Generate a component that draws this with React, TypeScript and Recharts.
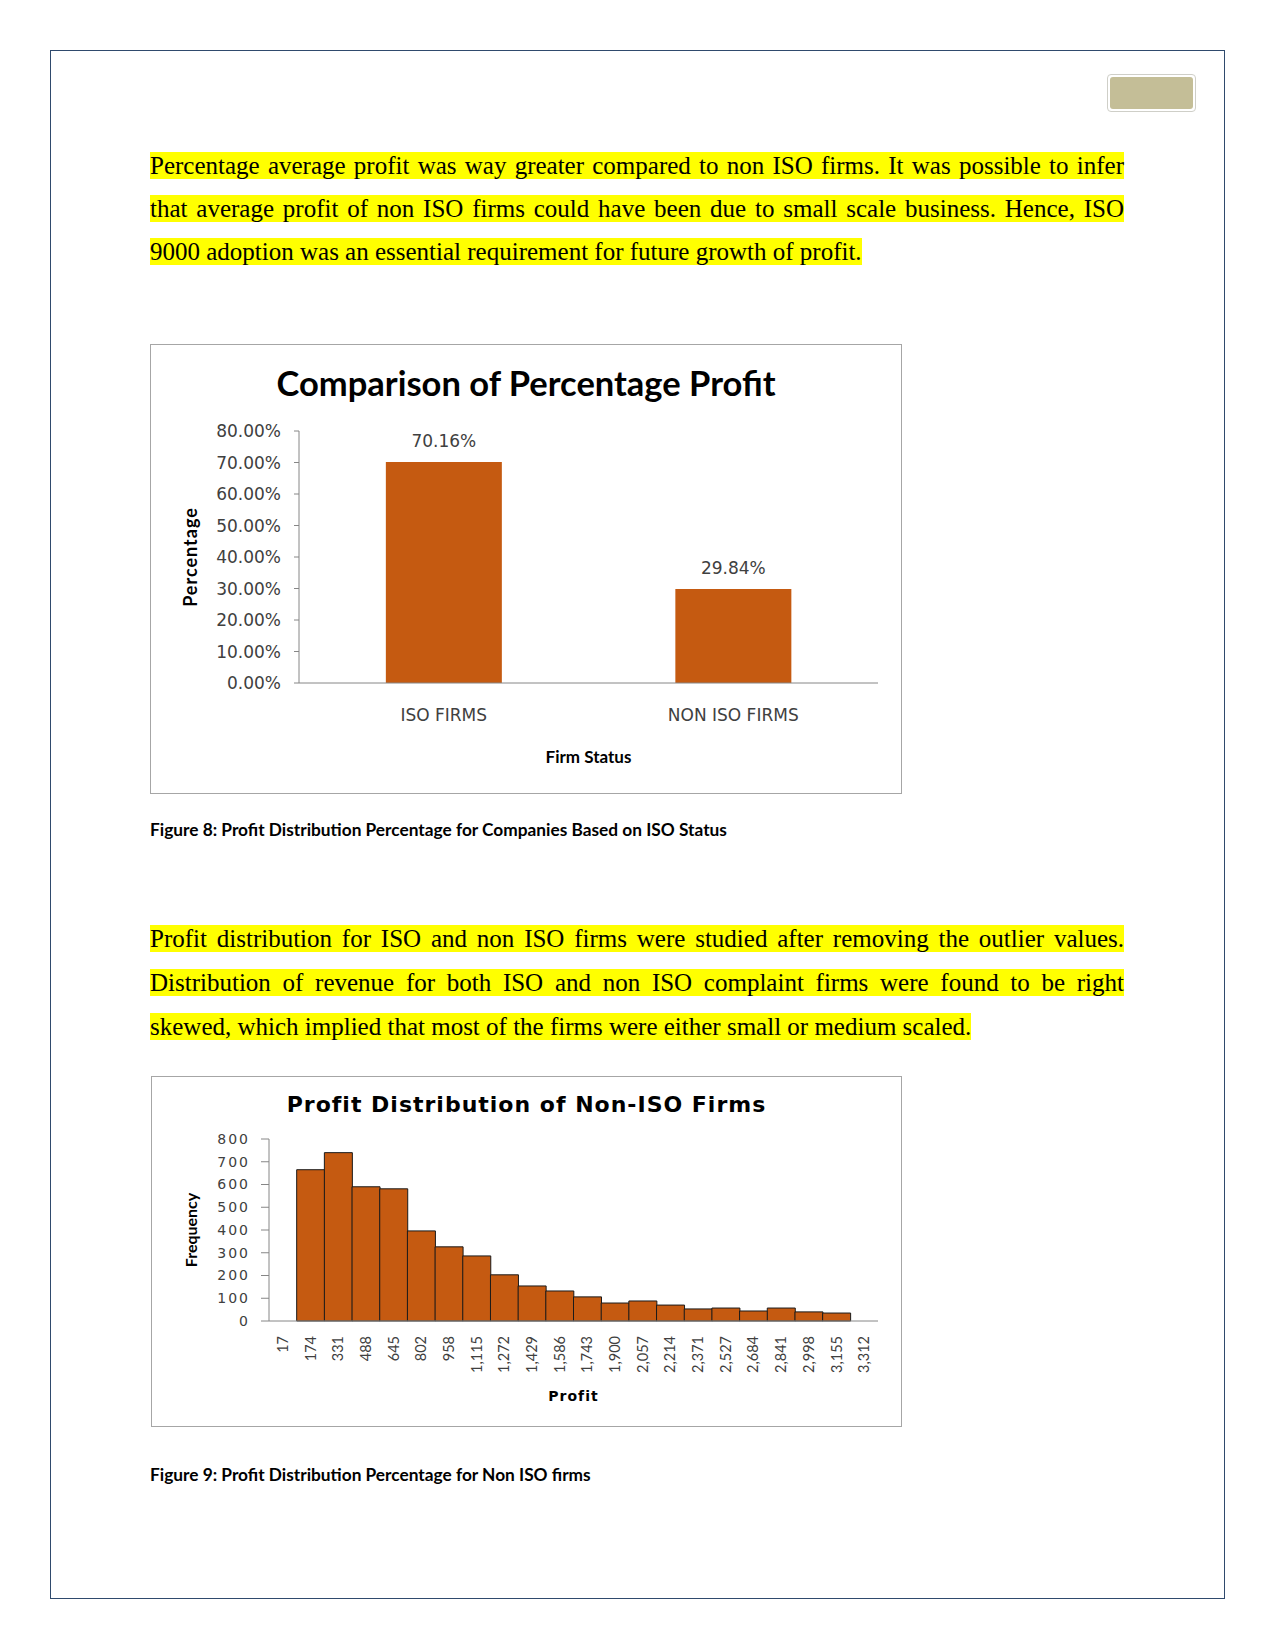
import React from 'react';
import { BarChart, Bar, XAxis, YAxis, LabelList } from 'recharts';

const isoCategories = ['ISO FIRMS', 'NON ISO FIRMS'];
const isoValues = [70.16, 29.84];
const isoTicks = [0, 10, 20, 30, 40, 50, 60, 70, 80];

const histBins = ['17', '174', '331', '488', '645', '802', '958', '1,115', '1,272', '1,429', '1,586', '1,743', '1,900', '2,057', '2,214', '2,371', '2,527', '2,684', '2,841', '2,998', '3,155', '3,312'];
const histFreq = [0, 665, 740, 590, 581, 396, 326, 286, 203, 154, 132, 106, 79, 88, 70, 53, 57, 44, 57, 40, 35, 0];
const histTicks = [0, 100, 200, 300, 400, 500, 600, 700, 800];

const para1 = [
  'Percentage average profit was way greater compared to non ISO firms. It was possible to infer',
  'that average profit of non ISO firms could have been due to small scale business. Hence, ISO',
  '9000 adoption was an essential requirement for future growth of profit.',
];
const para2 = [
  'Profit distribution for ISO and non ISO firms were studied after removing the outlier values.',
  'Distribution of revenue for both ISO and non ISO complaint firms were found to be right',
  'skewed, which implied that most of the firms were either small or medium scaled.',
];
const caption1 = 'Figure 8: Profit Distribution Percentage for Companies Based on ISO Status';
const caption2 = 'Figure 9: Profit Distribution Percentage for Non ISO firms';

const BAR = '#C55A11';
const AXIS = '#868686';

const isoData = isoCategories.map((c, i) => ({ name: c, value: isoValues[i] }));
const histData = histBins.map((b, i) => ({ bin: b, freq: histFreq[i] }));

function Para({ lines, top, lh }: { lines: string[]; top: number; lh: number }) {
  return (
    <>
      {lines.map((l, i) => (
        <div
          key={i}
          style={{
            position: 'absolute',
            left: 150,
            top: top + i * lh - lh / 2,
            width: 974,
            height: lh,
            lineHeight: lh + 'px',
            fontFamily: '"Liberation Serif", serif',
            fontSize: 25,
            color: '#000',
            textAlign: 'justify',
            textAlignLast: i < lines.length - 1 ? 'justify' : 'left',
            whiteSpace: 'nowrap',
          }}
        >
          <span style={{ background: '#FFFF00' }}>{l}</span>
        </div>
      ))}
    </>
  );
}

const HistTick = (props: any) => {
  const { x, y, payload } = props;
  return (
    <text
      x={x}
      y={y}
      dy="0.35em"
      textAnchor="end"
      transform={`rotate(-90 ${x} ${y})`}
      fontFamily="Lato, sans-serif"
      fontSize={14.5}
      fill="#404040"
    >
      {payload.value}
    </text>
  );
};

export default function App() {
  return (
    <div style={{ position: 'absolute', left: 0, top: 0, width: 1275, height: 1650, background: '#fff' }}>
      {/* page border */}
      <div style={{ position: 'absolute', left: 50, top: 50, width: 1175, height: 1549, border: '1px solid #2F4A6D', boxSizing: 'border-box' }} />
      {/* header box */}
      <div style={{ position: 'absolute', left: 1107, top: 74, width: 89, height: 38, border: '1px solid #CFCFC8', borderRadius: 4, boxSizing: 'border-box' }} />
      <div style={{ position: 'absolute', left: 1110, top: 77, width: 83, height: 32, background: '#C4BE97', borderRadius: 3 }} />

      <Para lines={para1} top={165} lh={43} />

      {/* Chart 1 */}
      <div style={{ position: 'absolute', left: 150, top: 344, width: 752, height: 450, border: '1px solid #A6A6A6', boxSizing: 'border-box' }} />
      <div style={{ position: 'absolute', left: 150, top: 344, width: 752, height: 450 }}>
        <div style={{ position: 'absolute', left: 0, top: 18, width: 752, textAlign: 'center', fontFamily: 'Lato, sans-serif', fontWeight: 700, fontSize: 34.5, color: '#000', lineHeight: '42px' }}>
          Comparison of Percentage Profit
        </div>
        <BarChart width={752} height={450} data={isoData} margin={{ top: 87, right: 24, bottom: 0, left: 0 }} barCategoryGap="30%">
          <XAxis
            dataKey="name"
            height={111}
            tickLine={false}
            tickSize={0}
            tickMargin={26}
            stroke={AXIS}
            tick={{ fontFamily: '"DejaVu Sans", sans-serif', fontSize: 17, fill: '#404040' }}
            label={{ value: 'Firm Status', position: 'insideBottom', offset: 31, style: { fontFamily: 'Lato, sans-serif', fontWeight: 700, fontSize: 17, fill: '#000' } }}
          />
          <YAxis
            width={149}
            domain={[0, 80]}
            ticks={isoTicks}
            interval={0}
            tickSize={5}
            tickMargin={13}
            stroke={AXIS}
            tickFormatter={(v: number) => `${v.toFixed(2)}%`}
            tick={{ fontFamily: '"DejaVu Sans", sans-serif', fontSize: 17, fill: '#404040' }}
            label={{ value: 'Percentage', angle: -90, position: 'insideLeft', offset: 41, style: { textAnchor: 'middle', fontFamily: 'Lato, sans-serif', fontWeight: 700, fontSize: 18, letterSpacing: 1, fill: '#000' } }}
          />
          <Bar dataKey="value" fill={BAR} isAnimationActive={false}>
            <LabelList
              dataKey="value"
              position="top"
              offset={15}
              formatter={(v: any) => `${Number(v).toFixed(2)}%`}
              style={{ fontFamily: '"DejaVu Sans", sans-serif', fontSize: 17, fill: '#404040' }}
            />
          </Bar>
        </BarChart>
      </div>
      <div style={{ position: 'absolute', left: 150, top: 819, fontFamily: 'Lato, sans-serif', fontWeight: 700, fontSize: 17.3, color: '#000', lineHeight: '22px', whiteSpace: 'nowrap' }}>{caption1}</div>

      <Para lines={para2} top={939} lh={44} />

      {/* Chart 2 */}
      <div style={{ position: 'absolute', left: 151, top: 1076, width: 751, height: 351, border: '1px solid #A6A6A6', boxSizing: 'border-box' }} />
      <div style={{ position: 'absolute', left: 151, top: 1076, width: 751, height: 351 }}>
        <div style={{ position: 'absolute', left: 0, top: 14, width: 751, textAlign: 'center', fontFamily: '"DejaVu Sans", sans-serif', fontWeight: 700, fontSize: 22, letterSpacing: 1, color: '#000', lineHeight: '30px' }}>
          Profit Distribution of Non-ISO Firms
        </div>
        <BarChart width={751} height={351} data={histData} margin={{ top: 63, right: 24, bottom: 0, left: 0 }} barCategoryGap={0} barGap={0}>
          <XAxis
            dataKey="bin"
            height={106}
            interval={0}
            tickLine={false}
            tickSize={0}
            tickMargin={15}
            stroke={AXIS}
            tick={<HistTick />}
            label={{ value: 'Profit', position: 'insideBottom', offset: 26, style: { fontFamily: '"DejaVu Sans", sans-serif', fontWeight: 700, fontSize: 14, letterSpacing: 1, fill: '#000' } }}
          />
          <YAxis
            width={118}
            domain={[0, 800]}
            ticks={histTicks}
            interval={0}
            tickSize={8}
            tickMargin={11}
            stroke={AXIS}
            tick={{ fontFamily: '"DejaVu Sans", sans-serif', fontSize: 14, letterSpacing: 2, fill: '#404040' }}
            label={{ value: 'Frequency', angle: -90, position: 'insideLeft', offset: 40, style: { textAnchor: 'middle', fontFamily: 'Lato, sans-serif', fontWeight: 700, fontSize: 16, fill: '#000' } }}
          />
          <Bar dataKey="freq" fill={BAR} stroke="#1A1A1A" strokeWidth={1} isAnimationActive={false} />
        </BarChart>
      </div>
      <div style={{ position: 'absolute', left: 150, top: 1464, fontFamily: 'Lato, sans-serif', fontWeight: 700, fontSize: 17.3, color: '#000', lineHeight: '22px', whiteSpace: 'nowrap' }}>{caption2}</div>
    </div>
  );
}
